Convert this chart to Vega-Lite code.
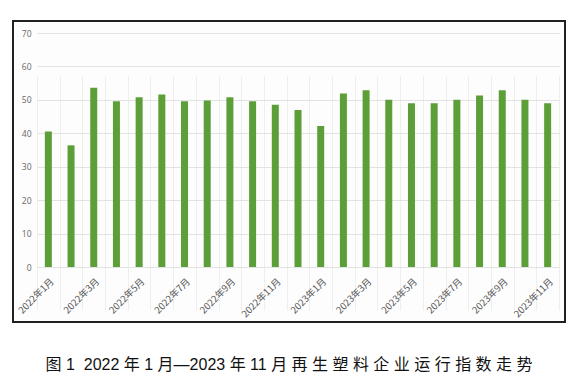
{
  "$schema": "https://vega.github.io/schema/vega-lite/v6.json",
  "width": 552,
  "height": 301,
  "autosize": {"type": "none"},
  "padding": {"left": 13, "top": 21, "right": 8, "bottom": 63},
  "background": "#ffffff",
  "title": {
    "text": "图\u00a01\u00a0\u00a02022 年\u00a01 月—2023 年\u00a011 月 再 生 塑 料 企 业 运 行 指 数 走 势",
    "orient": "bottom",
    "anchor": "middle",
    "frame": "group",
    "offset": 35,
    "font": "Liberation Sans, Noto Sans CJK SC",
    "fontSize": 16,
    "fontWeight": "normal",
    "color": "#111111"
  },
  "data": {
    "values": [
      {"month": "2022年1月", "value": 40.5},
      {"month": "2022年2月", "value": 36.4},
      {"month": "2022年3月", "value": 53.6},
      {"month": "2022年4月", "value": 49.6},
      {"month": "2022年5月", "value": 50.8},
      {"month": "2022年6月", "value": 51.6},
      {"month": "2022年7月", "value": 49.6},
      {"month": "2022年8月", "value": 49.8},
      {"month": "2022年9月", "value": 50.8},
      {"month": "2022年10月", "value": 49.6},
      {"month": "2022年11月", "value": 48.5},
      {"month": "2022年12月", "value": 47.0},
      {"month": "2023年1月", "value": 42.2},
      {"month": "2023年2月", "value": 51.9},
      {"month": "2023年3月", "value": 52.9},
      {"month": "2023年4月", "value": 50.0},
      {"month": "2023年5月", "value": 49.0},
      {"month": "2023年6月", "value": 49.0},
      {"month": "2023年7月", "value": 50.0},
      {"month": "2023年8月", "value": 51.3},
      {"month": "2023年9月", "value": 52.9},
      {"month": "2023年10月", "value": 50.0},
      {"month": "2023年11月", "value": 49.0}
    ]
  },
  "mark": {"type": "bar", "width": 7, "color": "#5c9e38"},
  "encoding": {
    "x": {
      "field": "month",
      "type": "nominal",
      "sort": null,
      "scale": {"range": [24, 546], "paddingInner": 0, "paddingOuter": 0},
      "axis": {
        "title": null,
        "orient": "bottom",
        "offset": -55,
        "domain": false,
        "ticks": false,
        "grid": true,
        "tickBand": "extent",
        "gridColor": "#eeeeee",
        "gridWidth": 1,
        "labelAngle": -45,
        "labelAlign": "right",
        "labelBaseline": "top",
        "labelPadding": 9,
        "labelFont": "Noto Sans CJK SC",
        "labelFontSize": 9.5,
        "labelColor": "#555555",
        "labelOverlap": false,
        "labelExpr": "test(regexp('年(1|3|5|7|9|11)月'), datum.label) ? datum.label : ''"
      }
    },
    "y": {
      "field": "value",
      "type": "quantitative",
      "scale": {"domain": [0, 70], "range": [246, 12], "nice": false, "zero": true},
      "axis": {
        "title": null,
        "orient": "left",
        "offset": -24,
        "values": [0, 10, 20, 30, 40, 50, 60, 70],
        "domain": false,
        "ticks": false,
        "grid": true,
        "gridColor": "#e3e3e3",
        "gridWidth": 1,
        "labelPadding": 6,
        "labelFont": "Open Sans",
        "labelFontSize": 8.5,
        "labelColor": "#666666"
      }
    }
  },
  "config": {
    "view": {"stroke": "#231f20", "strokeWidth": 2, "fill": "#fdfdfd"}
  }
}
